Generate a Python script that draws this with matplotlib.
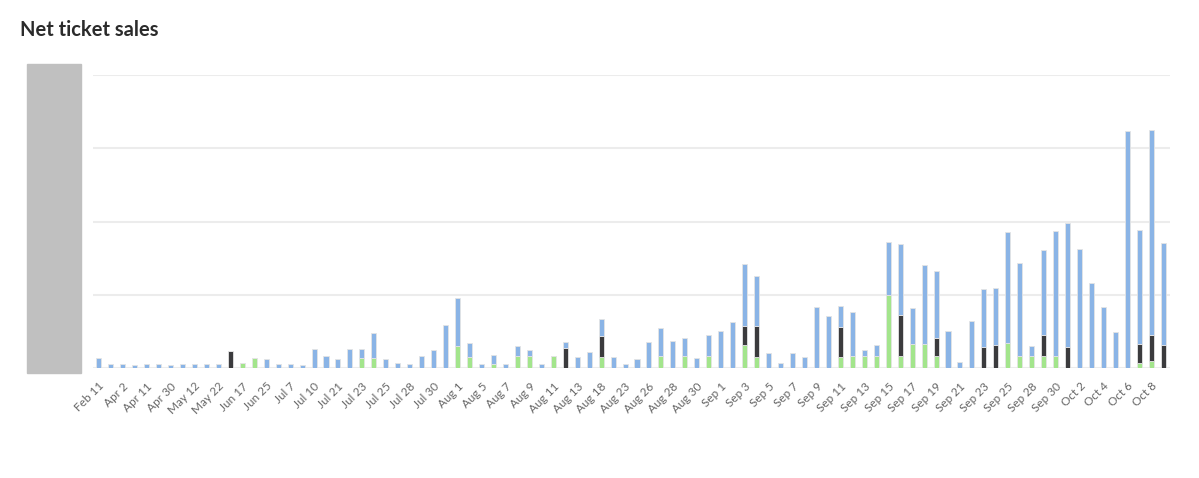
import matplotlib
matplotlib.use("Agg")
import matplotlib.pyplot as plt
from matplotlib.patches import Rectangle
import numpy as np

tick_labels = ["Feb 11", "Apr 2", "Apr 11", "Apr 30", "May 12", "May 22", "Jun 17", "Jun 25",
               "Jul 7", "Jul 10", "Jul 21", "Jul 23", "Jul 25", "Jul 28", "Jul 30", "Aug 1",
               "Aug 5", "Aug 7", "Aug 9", "Aug 11", "Aug 13", "Aug 18", "Aug 23", "Aug 26",
               "Aug 28", "Aug 30", "Sep 1", "Sep 3", "Sep 5", "Sep 7", "Sep 9", "Sep 11",
               "Sep 13", "Sep 15", "Sep 17", "Sep 19", "Sep 21", "Sep 23", "Sep 25", "Sep 28",
               "Sep 30", "Oct 2", "Oct 4", "Oct 6", "Oct 8"]

green = [0, 0, 0, 0, 0, 0, 0, 0, 0, 0,
         0, 0, 7, 14, 0, 0, 0, 0, 0, 0,
         0, 0, 14, 14, 0, 0, 0, 0, 0, 0,
         30, 15, 0, 5, 0, 16, 16, 0, 16, 0,
         0, 0, 15, 0, 0, 0, 0, 16, 0, 16,
         0, 16, 0, 0, 31, 15, 0, 0, 0, 0,
         0, 0, 15, 16, 16, 16, 99, 16, 33, 33,
         16, 0, 0, 0, 0, 0, 34, 17, 17, 17,
         17, 0, 0, 0, 0, 0, 0, 7, 9, 0]

black = [0, 0, 0, 0, 0, 0, 0, 0, 0, 0,
         0, 23, 0, 0, 0, 0, 0, 0, 0, 0,
         0, 0, 0, 0, 0, 0, 0, 0, 0, 0,
         0, 0, 0, 0, 0, 0, 0, 0, 0, 27,
         0, 0, 29, 0, 0, 0, 0, 0, 0, 0,
         0, 0, 0, 0, 26, 42, 0, 0, 0, 0,
         0, 0, 41, 0, 0, 0, 0, 57, 0, 0,
         25, 0, 0, 0, 28, 32, 0, 0, 0, 28,
         0, 28, 0, 0, 0, 0, 0, 26, 36, 31]

blue = [13, 6, 6, 4, 6, 6, 4, 5, 5, 6,
        5, 0, 0, 0, 12, 5, 5, 4, 26, 16,
        12, 26, 12, 34, 12, 7, 6, 17, 24, 59,
        65, 19, 5, 13, 5, 14, 8, 5, 0, 9,
        15, 22, 23, 15, 6, 12, 35, 39, 37, 25,
        13, 29, 51, 63, 85, 68, 20, 7, 20, 15,
        83, 71, 28, 60, 8, 15, 73, 96, 49, 107,
        91, 50, 8, 64, 80, 77, 152, 126, 13, 116,
        170, 170, 163, 116, 83, 49, 323, 155, 280, 139]

c_green = "#a3e58c"
c_black = "#3b3b3d"
c_blue = "#8ab4e6"

fig = plt.figure(figsize=(11.99, 4.78), dpi=100)
ax = fig.add_axes([93 / 1199, 1 - 368 / 478, (1170 - 93) / 1199, (368 - 75) / 478])

x = np.arange(len(blue))
g = np.array(green)
k = np.array(black)
b = np.array(blue)
w = 0.42
ekw = dict(edgecolor="#e4e4e4", linewidth=0.6)
ax.bar(x, g, width=w, color=c_green, zorder=3, **ekw)
ax.bar(x, k, width=w, bottom=g, color=c_black, zorder=3, **ekw)
ax.bar(x, b, width=w, bottom=g + k, color=c_blue, zorder=3, **ekw)

ax.set_xlim(-0.48, len(blue) - 0.44)
ax.set_ylim(0, 400)
ax.set_yticks([0, 100, 200, 300, 400])
ax.yaxis.grid(True, color="#ececec", linewidth=1.5, zorder=0)
ax.set_yticklabels([])
ax.tick_params(axis="y", length=0)
for s in ax.spines.values():
    s.set_visible(False)

ax.set_xticks(x[::2])
ax.set_xticklabels(tick_labels, rotation=45, ha="right", rotation_mode="anchor",
                   fontsize=8.5, color="#666666", family="Lato")
ax.tick_params(axis="x", length=0, pad=9)

fig.add_artist(Rectangle((27 / 1199, 1 - 373 / 478), 54 / 1199, 309 / 478,
                         transform=fig.transFigure, color="#c0c0c0", zorder=1))
fig.text(20 / 1199, 1 - 30 / 478, "Net ticket sales", fontsize=14.5, fontweight="bold",
         family="Lato", color="#2b2b2b", va="center", ha="left")

fig.savefig("out.png", dpi=100, facecolor="white")
